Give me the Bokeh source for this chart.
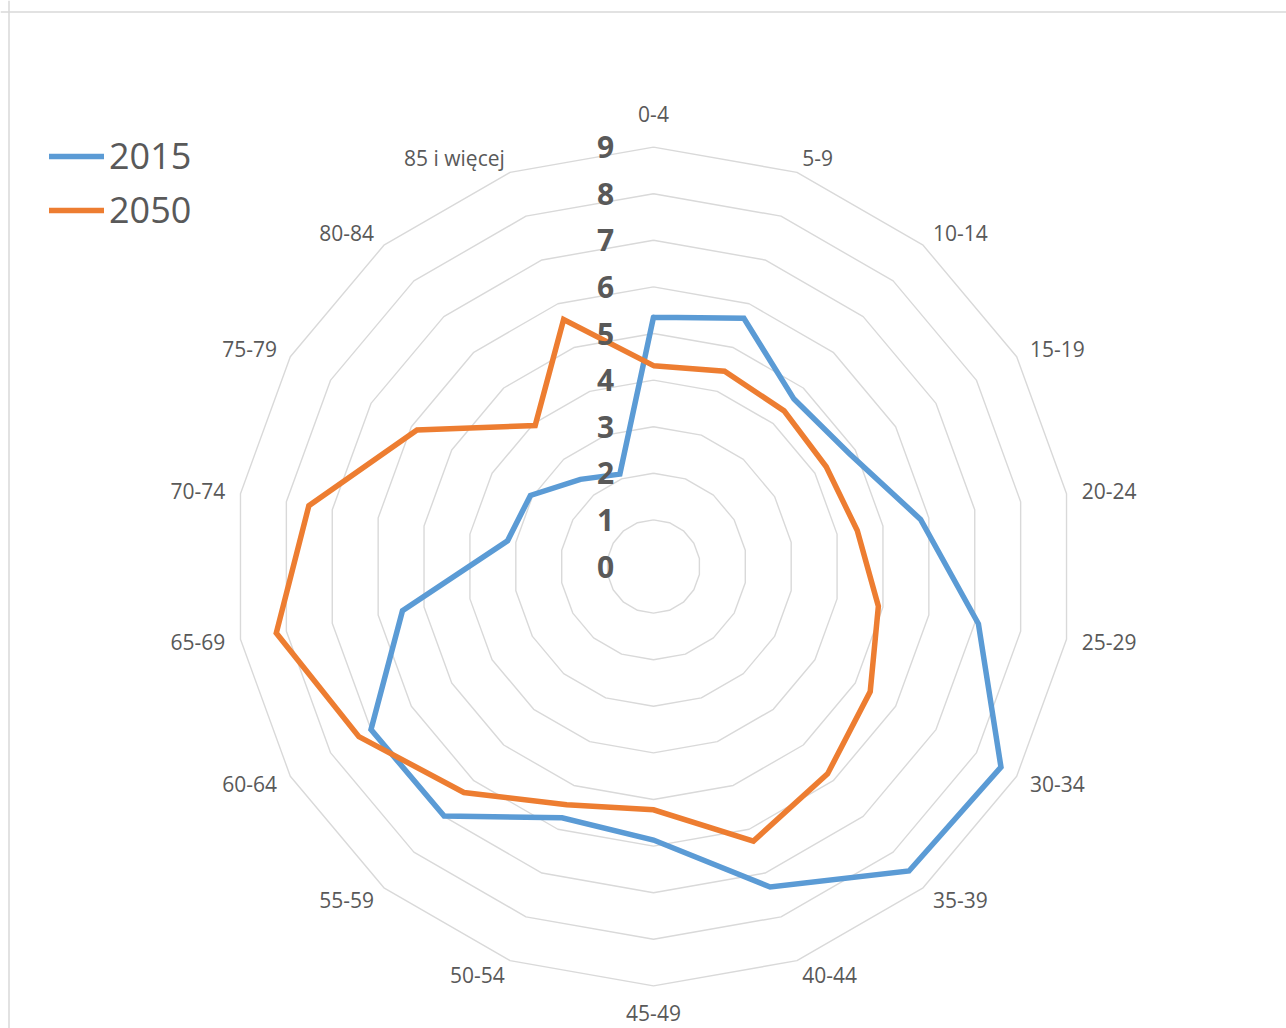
import math
from bokeh.plotting import figure
from bokeh.models import Range1d, Legend, LegendItem, Span, ColumnDataSource
from bokeh.embed import file_html
from bokeh.resources import INLINE
from bokeh.core.properties import value

# ---- data ----
categories = ["0-4", "5-9", "10-14", "15-19", "20-24", "25-29", "30-34", "35-39",
              "40-44", "45-49", "50-54", "55-59", "60-64", "65-69", "70-74",
              "75-79", "80-84", "85 i więcej"]
values_2015 = [5.35, 5.67, 4.69, 4.85, 5.82, 7.08, 8.61, 8.53, 7.32,
               5.87, 5.74, 6.99, 7.00, 5.47, 3.18, 3.05, 2.44, 2.11]
values_2050 = [4.31, 4.46, 4.36, 4.28, 4.44, 4.90, 5.37, 5.81, 6.27,
               5.22, 5.44, 6.33, 7.30, 8.22, 7.51, 5.86, 3.95, 5.64]
series_names = ["2015", "2050"]
axis_ticks = [0, 1, 2, 3, 4, 5, 6, 7, 8, 9]

# ---- styling ----
BLUE = "#5B9BD5"
ORANGE = "#ED7D31"
TEXT = "#595959"
GRID = "#D9D9D9"
FONT = "Open Sans"

U = 46.6               # pixels per value unit
W, H = 1286, 1028
CX, CY = 653, 566      # centre of the radar in figure pixels (from left / top)

p = figure(width=W, height=H,
           x_range=Range1d(-CX / U, (W - CX) / U),
           y_range=Range1d(-(H - CY) / U, CY / U),
           output_backend="svg", toolbar_location=None,
           x_axis_location=None, y_axis_location=None, min_border=0)
p.grid.visible = False
p.outline_line_color = None
p.background_fill_color = "white"
p.border_fill_color = "white"

N = len(categories)
angles = [2 * math.pi * i / N for i in range(N)]


def polar(vals):
    xs = [v * math.sin(a) for v, a in zip(vals, angles)]
    ys = [v * math.cos(a) for v, a in zip(vals, angles)]
    return xs + xs[:1], ys + ys[:1]


# rings
ring_xs, ring_ys = [], []
for k in axis_ticks[1:]:
    rx, ry = polar([k] * N)
    ring_xs.append(rx)
    ring_ys.append(ry)
p.multi_line(ring_xs, ring_ys, line_color=GRID, line_width=1.4)

# series
renderers = []
for vals, col in ((values_2015, BLUE), (values_2050, ORANGE)):
    sx, sy = polar(vals)
    r = p.line(sx, sy, line_color=col, line_width=5.5, line_join="miter", line_cap="round")
    renderers.append(r)

# category labels
lx, ly, la = [], [], []
for a in angles:
    s, c = math.sin(a), math.cos(a)
    if abs(s) < 0.01:
        R = 9.72 if c > 0 else 9.58
        align = "center"
    else:
        R = 9.33
        align = "left" if s > 0 else "right"
    lx.append(R * s)
    ly.append(R * c)
    la.append(align)
src = ColumnDataSource(dict(x=lx, y=ly, text=categories, align=la))
p.text(x="x", y="y", text="text", source=src, text_align="align",
       text_baseline="middle", text_font=value(FONT), text_font_size="21px",
       text_color=TEXT)

# value axis labels
p.text(x=[-48 / U] * len(axis_ticks), y=axis_ticks, text=[str(t) for t in axis_ticks],
       text_align="center", text_baseline="middle", text_font=value(FONT),
       text_font_size="30px", text_font_style="bold", text_color=TEXT)

# chart border (top and left visible)
p.add_layout(Span(location=(CY - 11.5) / U, dimension="width", line_color=GRID, line_width=1.5))
p.add_layout(Span(location=(-CX + 8.5) / U, dimension="height", line_color=GRID, line_width=1.5))

legend = Legend(items=[LegendItem(label=series_names[0], renderers=[renderers[0]]),
                       LegendItem(label=series_names[1], renderers=[renderers[1]])],
                location=(49, H - 234), orientation="vertical",
                label_text_font=FONT, label_text_font_size="36px", label_text_color=TEXT,
                glyph_width=55, glyph_height=40, label_height=40, spacing=5,
                padding=0, margin=0, label_standoff=5,
                border_line_color=None, background_fill_alpha=0)
p.add_layout(legend)

open("out.html", "w").write(file_html(p, INLINE))
